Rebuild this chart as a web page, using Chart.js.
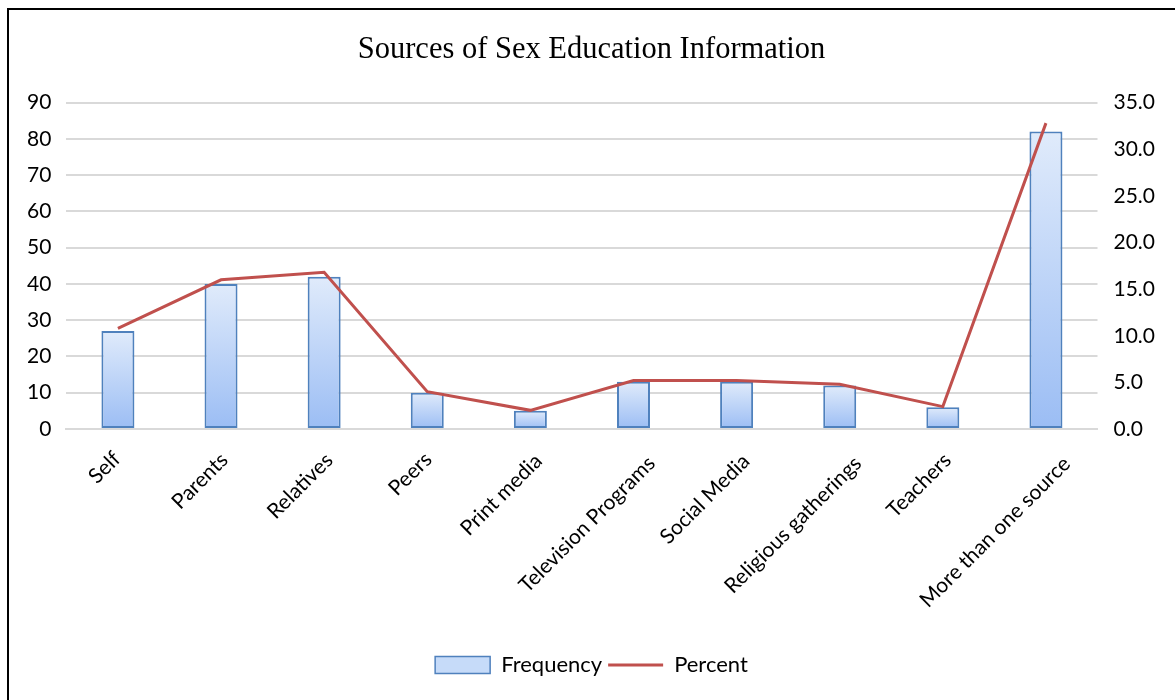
<!DOCTYPE html>
<html>
<head>
<meta charset="utf-8">
<script src="https://cdn.jsdelivr.net/npm/chart.js@4.4.1/dist/chart.umd.min.js"></script>
<style>
  html, body { margin: 0; padding: 0; background: #fff; }
  .frame {
    position: absolute; left: 7px; top: 8px; width: 1200px; height: 720px;
    border-top: 2px solid #000; border-left: 2px solid #000;
  }
  .wrap { position: absolute; left: 0; top: 0; width: 1175px; height: 700px; }
</style>
</head>
<body>
<div class="frame"></div>
<div class="wrap"><canvas id="sexEdChart" width="1175" height="700"></canvas></div>
<script>
// data
const categories = ['Self', 'Parents', 'Relatives', 'Peers', 'Print media', 'Television Programs',
  'Social Media', 'Religious gatherings', 'Teachers', 'More than one source'];
const frequency = [27, 40, 42, 10, 5, 13, 13, 12, 6, 82];
const percent = [10.8, 16.0, 16.8, 4.0, 2.0, 5.2, 5.2, 4.8, 2.4, 32.8];
const leftTicks = [0, 10, 20, 30, 40, 50, 60, 70, 80, 90];
const rightTicks = [0, 5, 10, 15, 20, 25, 30, 35];

const tickFont = { family: 'Lato', size: 21 };

// each bar gets its own light-to-blue gradient like the original
function barFill(context) {
  const chart = context.chart;
  if (context.type !== 'data' || !chart.chartArea) return '#c6dbf9';
  const y = chart.scales.y;
  const top = y.getPixelForValue(context.parsed.y);
  const base = y.getPixelForValue(0);
  const g = chart.ctx.createLinearGradient(0, top, 0, base);
  g.addColorStop(0, '#e0ebfb');
  g.addColorStop(1, '#9bbdf4');
  return g;
}

// Excel places the rotated category labels a bit right of the tick,
// more so for longer labels -> draw them ourselves at the scale's tick pixels
const slantedLabels = {
  id: 'slantedLabels',
  afterDraw(chart) {
    const xs = chart.scales.x;
    const c = chart.ctx;
    c.save();
    c.font = `${tickFont.size}px ${tickFont.family}`;
    c.fillStyle = '#000';
    c.textAlign = 'right';
    c.textBaseline = 'top';
    xs.ticks.forEach((t, i) => {
      const text = String(xs.getLabelForValue(t.value));
      const L = c.measureText(text).width;
      const x = xs.getPixelForTick(i) - 13 + 0.13 * L;
      const y = xs.top + 18 + 0.03 * L;
      c.save();
      c.translate(x, y);
      c.rotate(-Math.PI / 4);
      c.fillText(text, 0, 0);
      c.restore();
    });
    c.restore();
  }
};

const ctx = document.getElementById('sexEdChart').getContext('2d');
new Chart(ctx, {
  type: 'bar',
  data: {
    labels: categories,
    datasets: [
      {
        type: 'line',
        label: 'Percent',
        data: percent,
        yAxisID: 'y1',
        borderColor: '#c0504d',
        backgroundColor: '#c0504d',
        borderWidth: 3,
        pointRadius: 0,
        tension: 0,
        pointStyle: 'line',
        order: 0
      },
      {
        label: 'Frequency',
        data: frequency,
        yAxisID: 'y',
        backgroundColor: barFill,
        borderColor: '#4f81bd',
        borderWidth: 2,
        borderSkipped: false,
        categoryPercentage: 1,
        barPercentage: 0.32,
        pointStyle: 'rect',
        order: 1
      }
    ]
  },
  plugins: [slantedLabels],
  options: {
    responsive: false,
    animation: false,
    layout: { padding: { left: 12, right: 4, top: 0, bottom: 14 } },
    plugins: {
      title: {
        display: true,
        text: 'Sources of Sex Education Information',
        color: '#000',
        font: { family: 'Liberation Serif', size: 30.5, weight: 'normal' },
        padding: { top: 32, bottom: 34 }
      },
      legend: {
        position: 'bottom',
        reverse: true,
        labels: {
          color: '#000',
          font: { family: 'Lato', size: 22 },
          usePointStyle: true,
          pointStyleWidth: 55,
          boxHeight: 17,
          padding: 6,
          generateLabels: (chart) => {
            const items = Chart.defaults.plugins.legend.labels.generateLabels(chart);
            items.forEach(it => {
              if (it.text === 'Frequency') {
                it.fillStyle = '#c6dbf9';
                it.strokeStyle = '#4f81bd';
                it.lineWidth = 1.5;
              } else {
                it.strokeStyle = '#c0504d';
                it.lineWidth = 3;
              }
            });
            return items;
          }
        }
      },
      tooltip: { enabled: false }
    },
    scales: {
      x: {
        grid: { display: false },
        border: { color: '#d9d9d9', width: 2 },
        ticks: { display: false },
        afterFit: (scale) => { scale.height = 219; }
      },
      y: {
        position: 'left',
        min: 0,
        max: 90,
        afterBuildTicks: (scale) => { scale.ticks = leftTicks.map(v => ({ value: v })); },
        grid: { color: '#d9d9d9', lineWidth: 2, drawTicks: false },
        border: { display: false },
        ticks: { color: '#000', font: tickFont, padding: 15 }
      },
      y1: {
        position: 'right',
        min: 0,
        max: 35,
        afterBuildTicks: (scale) => { scale.ticks = rightTicks.map(v => ({ value: v })); },
        grid: { display: false, drawTicks: false },
        border: { display: false },
        ticks: {
          color: '#000',
          font: tickFont,
          padding: 16,
          callback: (v) => Number(v).toFixed(1)
        }
      }
    }
  }
});
</script>
</body>
</html>
